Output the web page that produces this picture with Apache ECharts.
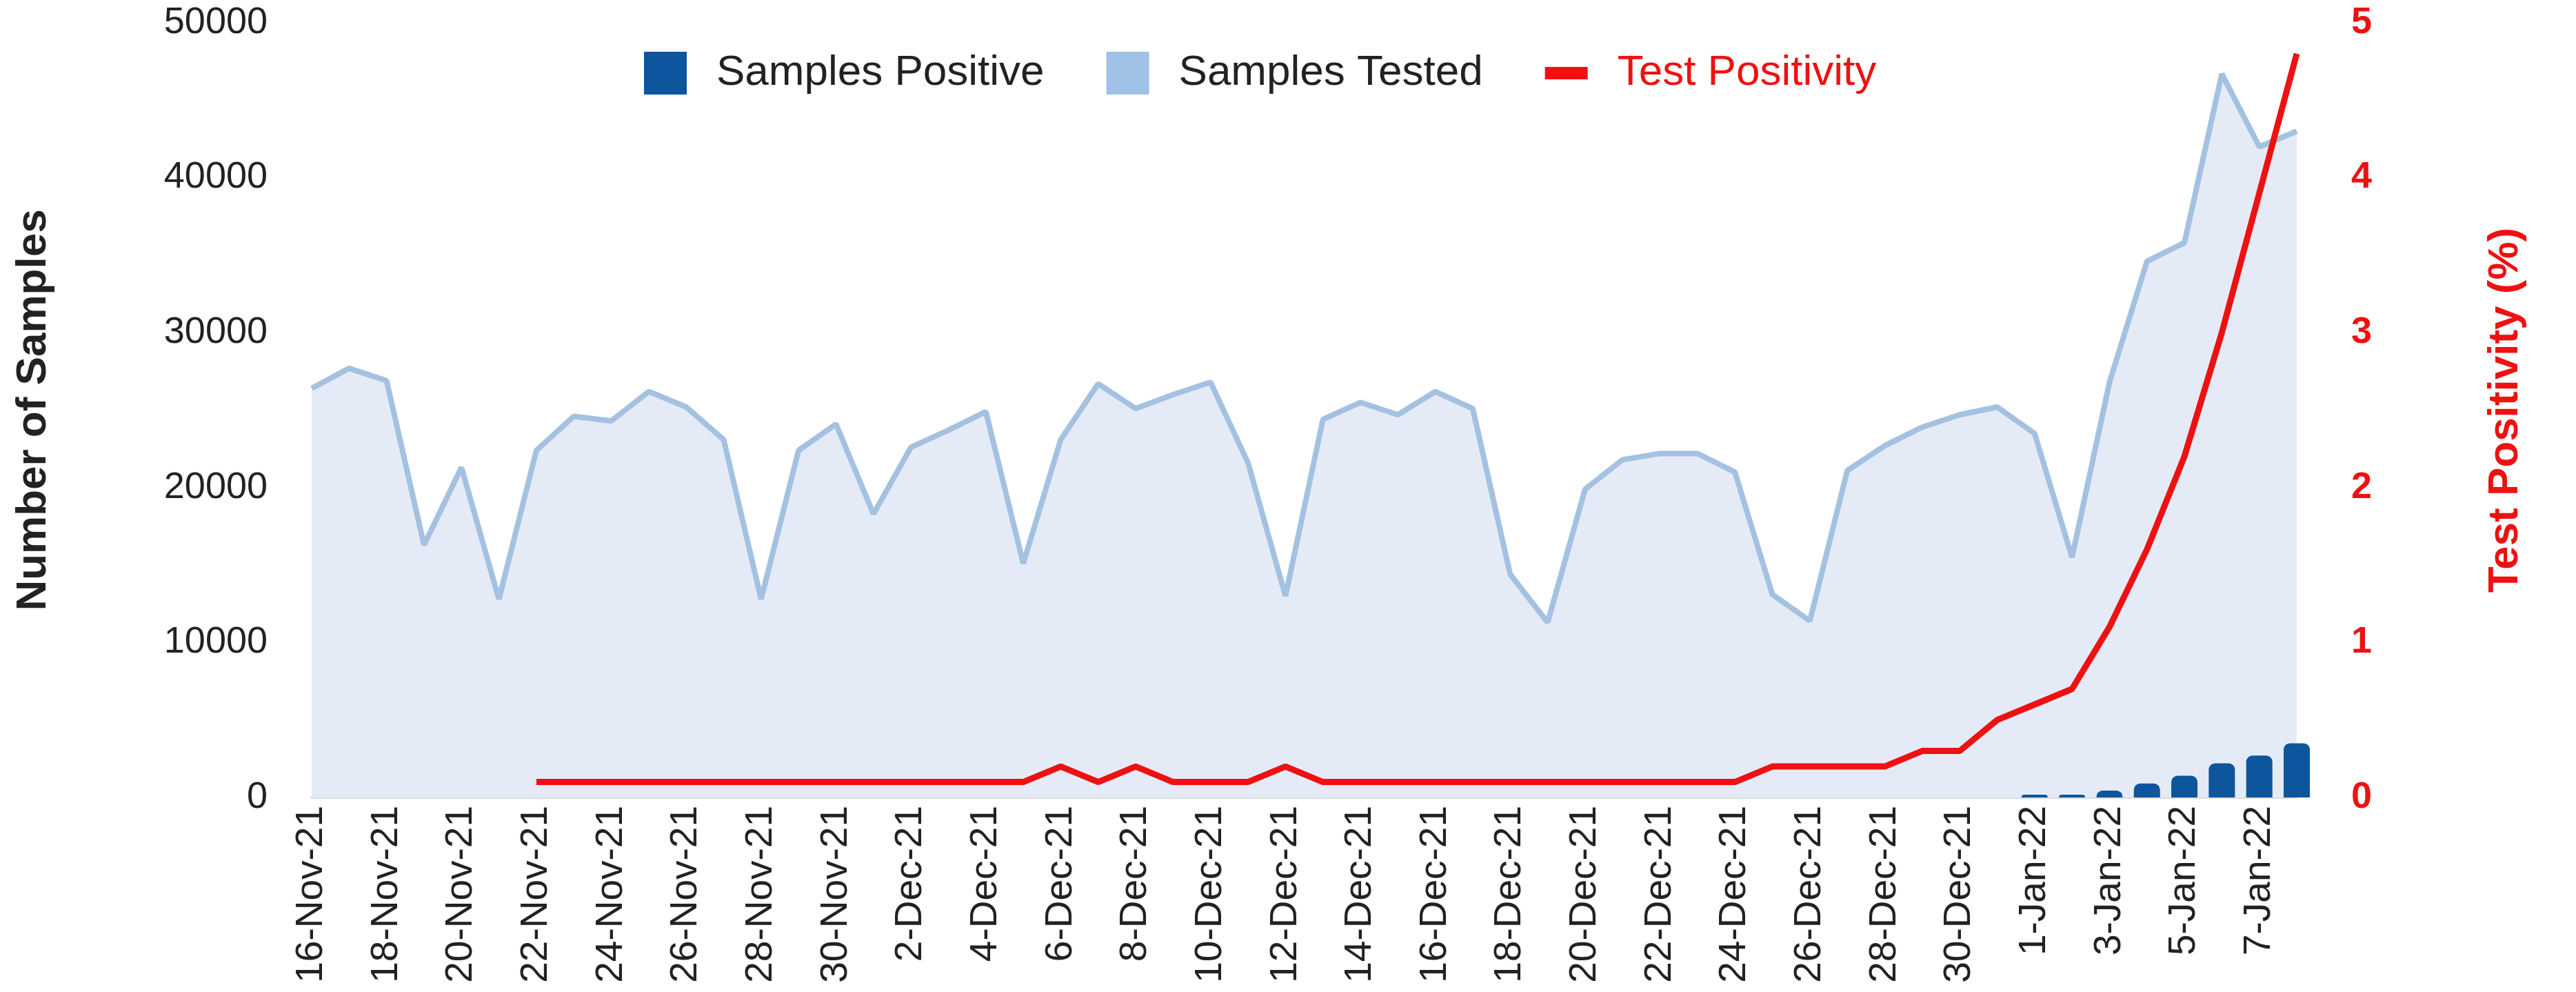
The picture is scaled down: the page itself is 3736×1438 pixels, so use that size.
<!DOCTYPE html>
<html>
<head>
<meta charset="utf-8">
<title>Samples Tested and Test Positivity</title>
<script src="https://cdn.jsdelivr.net/npm/echarts@6/dist/echarts.min.js"></script>
<style>
  html, body { margin: 0; padding: 0; background: #fff; }
  #main { width: 3736px; height: 1438px; }
</style>
</head>
<body>
<div id="main"></div>
<script>
// daily categories
var days = [
  '16-Nov-21', '17-Nov-21', '18-Nov-21', '19-Nov-21', '20-Nov-21', '21-Nov-21', '22-Nov-21',
  '23-Nov-21', '24-Nov-21', '25-Nov-21', '26-Nov-21', '27-Nov-21', '28-Nov-21', '29-Nov-21',
  '30-Nov-21', '1-Dec-21', '2-Dec-21', '3-Dec-21', '4-Dec-21', '5-Dec-21', '6-Dec-21',
  '7-Dec-21', '8-Dec-21', '9-Dec-21', '10-Dec-21', '11-Dec-21', '12-Dec-21', '13-Dec-21',
  '14-Dec-21', '15-Dec-21', '16-Dec-21', '17-Dec-21', '18-Dec-21', '19-Dec-21', '20-Dec-21',
  '21-Dec-21', '22-Dec-21', '23-Dec-21', '24-Dec-21', '25-Dec-21', '26-Dec-21', '27-Dec-21',
  '28-Dec-21', '29-Dec-21', '30-Dec-21', '31-Dec-21', '1-Jan-22', '2-Jan-22', '3-Jan-22',
  '4-Jan-22', '5-Jan-22', '6-Jan-22', '7-Jan-22', '8-Jan-22'
];

// samples tested (area)
var samplesTested = [
  26400, 27700, 26900, 16300, 21300, 12800, 22400,
  24600, 24300, 26200, 25200, 23100, 12800, 22400,
  24100, 18300, 22600, 23700, 24900, 15100, 23100,
  26700, 25100, 26000, 26800, 21600, 13000, 24400,
  25500, 24700, 26200, 25100, 14400, 11300, 19900,
  21800, 22200, 22200, 21000, 13100, 11400, 21100,
  22700, 23900, 24700, 25200, 23500, 15500, 26800,
  34600, 35800, 46700, 42000, 43000
];

// samples positive (bars), only reported from 1-Jan
var samplesPositive = [
  null, null, null, null, null, null, null,
  null, null, null, null, null, null, null,
  null, null, null, null, null, null, null,
  null, null, null, null, null, null, null,
  null, null, null, null, null, null, null,
  null, null, null, null, null, null, null,
  null, null, null, null, 180, 180, 450,
  900, 1400, 2200, 2700, 3500
];

// test positivity %, starts 22-Nov
var testPositivity = [
  null, null, null, null, null, null, 0.1,
  0.1, 0.1, 0.1, 0.1, 0.1, 0.1, 0.1,
  0.1, 0.1, 0.1, 0.1, 0.1, 0.1, 0.2,
  0.1, 0.2, 0.1, 0.1, 0.1, 0.2, 0.1,
  0.1, 0.1, 0.1, 0.1, 0.1, 0.1, 0.1,
  0.1, 0.1, 0.1, 0.1, 0.2, 0.2, 0.2,
  0.2, 0.3, 0.3, 0.5, 0.6, 0.7, 1.1,
  1.6, 2.2, 3.0, 3.9, 4.8
];

var font = 'Liberation Sans, Arial, sans-serif';
var red = '#ee1111';

var myChart = echarts.init(document.getElementById('main'));
myChart.setOption({
  animation: false,
  textStyle: { fontFamily: font },
  grid: {
    left: 452,
    right: 405,
    top: 33,
    bottom: 282,
    containLabel: false
  },
  legend: {
    left: 929,
    top: 70,
    itemWidth: 62,
    itemHeight: 62,
    itemGap: 90,
    textStyle: { fontSize: 62, color: '#222', padding: [0, 0, 0, 38], fontFamily: font },
    data: [
      { name: 'Samples Positive', icon: 'rect', itemStyle: { color: '#0d559c', borderWidth: 0 } },
      { name: 'Samples Tested', icon: 'rect', itemStyle: { color: '#9fc2e6', borderWidth: 0 } },
      { name: 'Test Positivity', icon: 'path://M0 0H62V18H0Z', itemStyle: { color: red, borderWidth: 0 },
        textStyle: { color: red } }
    ]
  },
  xAxis: {
    type: 'category',
    data: days,
    boundaryGap: false,
    axisLine: { lineStyle: { color: '#dcdcdc', width: 4 } },
    axisTick: { show: false },
    axisLabel: {
      rotate: 90,
      interval: 1,
      margin: 12,
      fontSize: 55,
      color: '#222',
      fontFamily: font
    },
    splitLine: { show: false }
  },
  yAxis: [
    {
      type: 'value',
      min: 0,
      max: 50000,
      interval: 10000,
      name: 'Number of Samples',
      nameLocation: 'middle',
      nameRotate: 90,
      nameGap: 372,
      nameTextStyle: { fontSize: 62, fontWeight: 'bold', color: '#222', fontFamily: font },
      axisLine: { show: false },
      axisTick: { show: false },
      splitLine: { show: false },
      axisLabel: {
        margin: 64, fontSize: 54, color: '#222', fontFamily: font,
        formatter: function (v) { return String(v); }
      }
    },
    {
      type: 'value',
      min: 0,
      max: 5,
      interval: 1,
      name: 'Test Positivity (%)',
      nameLocation: 'middle',
      nameRotate: 90,
      nameGap: 272,
      nameTextStyle: { fontSize: 62, fontWeight: 'bold', color: red, fontFamily: font },
      axisLine: { show: false },
      axisTick: { show: false },
      splitLine: { show: false },
      axisLabel: { margin: 79, fontSize: 54, fontWeight: 'bold', color: red, fontFamily: font }
    }
  ],
  series: [
    {
      name: 'Samples Tested',
      type: 'line',
      data: samplesTested,
      yAxisIndex: 0,
      symbol: 'none',
      z: 1,
      lineStyle: { color: '#a4c1e1', width: 8 },
      itemStyle: { color: '#a4c1e1' },
      areaStyle: { color: '#e4ebf7', opacity: 1 }
    },
    {
      name: 'Samples Positive',
      type: 'bar',
      data: samplesPositive,
      yAxisIndex: 0,
      barWidth: 38,
      z: 3,
      itemStyle: { color: '#0d559c', borderRadius: [9, 9, 0, 0] }
    },
    {
      name: 'Test Positivity',
      type: 'line',
      data: testPositivity,
      yAxisIndex: 1,
      symbol: 'none',
      z: 5,
      lineStyle: { color: red, width: 9 },
      itemStyle: { color: red }
    }
  ]
});
</script>
</body>
</html>
